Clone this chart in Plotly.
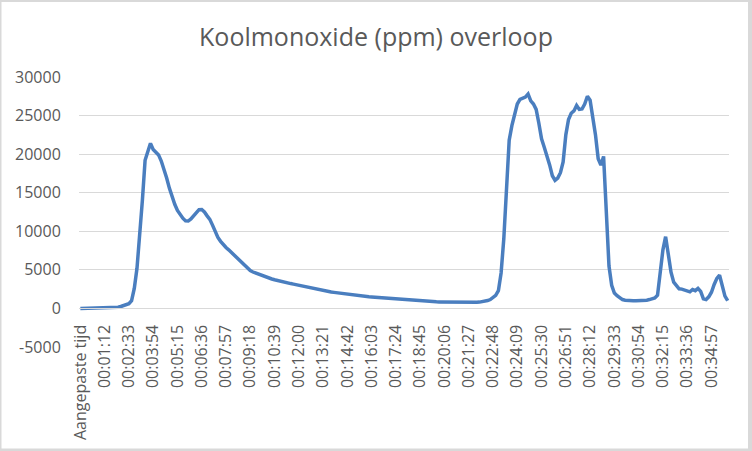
import plotly.graph_objects as go

# ---- data ----
n_points = 241
categories = ["Aangepaste tijd"] + [
    "00:%02d:%02d" % ((k * 9) // 60, (k * 9) % 60) for k in range(n_points - 1)
]

co_ppm = [
    0, 10, 15, 20, 25, 30, 35, 40, 45, 50,            # 0-9
    60, 70, 80, 100, 150, 250, 350, 450, 620, 1000,   # 10-19
    2600, 5200, 9300, 14000, 19200, 20500, 21400, 20600, 20300, 19900,  # 20-29
    19100, 18100, 16900, 15600, 14500, 13500, 12700, 12100, 11700, 11350,  # 30-39
    11330, 11600, 12050, 12500, 12800, 12820, 12500, 12000, 11550, 10800,  # 40-49
    9900, 9200, 8700, 8250, 7900, 7600, 7250, 6900, 6580, 6250,  # 50-59
    5850, 5450, 5150, 4900, 4720, 4580, 4420, 4270, 4130, 4020,  # 60-69
    3920, 3820, 3720, 3620, 3530, 3450, 3370, 3290, 3220, 3150,  # 70-79
    3070, 3000, 2930, 2850, 2760, 2670, 2590, 2500, 2440, 2380,  # 80-89
    2300, 2230, 2170, 2120, 2080, 2030, 1990, 1950, 1890, 1830,  # 90-99
    1760, 1700, 1650, 1610, 1580, 1560, 1530, 1500, 1470, 1440,  # 100-109
    1400, 1370, 1340, 1310, 1280, 1250, 1220, 1190, 1160, 1130,  # 110-119
    1100, 1070, 1040, 1010, 990, 960, 940, 920, 900, 880,        # 120-129
    870, 860, 850, 840, 830, 820, 815, 810, 800, 795,            # 130-139
    790, 785, 780, 780, 780, 785, 790, 800, 820, 850,            # 140-149
    920, 1020, 1150, 1380, 1700, 2300, 4600, 9000, 15700, 21800,  # 150-159
    23700, 25100, 26500, 27100, 27200, 27400, 27800, 26900, 26500, 25800,  # 160-169
    24000, 22000, 20900, 19800, 18600, 17200, 16600, 16900, 17600, 19000,  # 170-179
    22500, 24500, 25300, 25600, 26300, 25800, 25850, 26500, 27500, 27000,  # 180-189
    25000, 22500, 19400, 18600, 19700, 12500, 5500, 3000, 2000, 1650,  # 190-199
    1350, 1150, 1070, 1020, 1000, 985, 985, 990, 1000, 1020,  # 200-209
    1075, 1150, 1250, 1350, 1700, 4600, 7600, 9300, 7000, 4700,  # 210-219
    3400, 2900, 2550, 2500, 2400, 2250, 2150, 2450, 2300, 2600,  # 220-229
    2200, 1250, 1150, 1500, 2100, 3100, 3900, 4300, 3000, 1600,  # 230-239
    1000,  # 240
]

tick_labels = [
    "Aangepaste tijd", "00:01:12", "00:02:33", "00:03:54", "00:05:15", "00:06:36",
    "00:07:57", "00:09:18", "00:10:39", "00:12:00", "00:13:21", "00:14:42",
    "00:16:03", "00:17:24", "00:18:45", "00:20:06", "00:21:27", "00:22:48",
    "00:24:09", "00:25:30", "00:26:51", "00:28:12", "00:29:33", "00:30:54",
    "00:32:15", "00:33:36", "00:34:57",
]
y_ticks = [-5000, 0, 5000, 10000, 15000, 20000, 25000, 30000]

title_text = "Koolmonoxide (ppm) overloop"

# ---- layout ----
W, H = 752, 451
ML, MR, MT, MB = 79, 23, 77, 104
pw, ph = W - ML - MR, H - MT - MB
y_min, y_max = -5000, 30000
GRID = "#D9D9D9"
TXT = "#595959"
FONT = "Open Sans, DejaVu Sans, sans-serif"

fig = go.Figure()
fig.add_trace(go.Scatter(
    x=categories, y=co_ppm, mode="lines",
    line=dict(color="#4A7EBF", width=3.5),
    hoverinfo="skip", showlegend=False,
))

def px_x(p):
    return (p - ML) / pw

def px_y(p):
    return (H - MB - p) / ph

fig.update_layout(
    width=W, height=H,
    margin=dict(l=ML, r=MR, t=MT, b=MB, pad=0),
    paper_bgcolor=GRID,
    plot_bgcolor="rgba(0,0,0,0)",
    template="none",
    title=dict(text=title_text, x=0.5, xref="container", xanchor="center",
               y=1 - 37 / H, yref="container", yanchor="middle",
               font=dict(family=FONT, size=25, color=TXT)),
    shapes=[dict(type="rect", xref="paper", yref="paper", layer="below",
                 x0=px_x(1.5), x1=px_x(748), y0=px_y(448.5), y1=px_y(2),
                 fillcolor="white", line=dict(width=0))],
    xaxis=dict(
        type="category", categoryorder="array", categoryarray=categories,
        range=[-0.5, n_points - 0.5],
        tickmode="array", tickvals=tick_labels, ticktext=tick_labels,
        tickangle=-90, showgrid=False, zeroline=False,
        showline=True, linecolor=GRID, linewidth=1,
        anchor="free", position=(0 - y_min) / (y_max - y_min),
        ticks="outside", ticklen=9, tickcolor="rgba(0,0,0,0)",
        tickfont=dict(family=FONT, size=16, color=TXT),
        automargin=False,
    ),
    yaxis=dict(
        range=[y_min, y_max], tickmode="array", tickvals=y_ticks,
        ticktext=[str(v) for v in y_ticks],
        showgrid=True, gridcolor=GRID, gridwidth=1, zeroline=False,
        showline=False, ticks="outside", ticklen=14, tickcolor="rgba(0,0,0,0)",
        tickfont=dict(family=FONT, size=16, color=TXT),
        automargin=False,
    ),
)

fig.write_html(
    "out.html",
    config={"displayModeBar": False},
    post_script="document.body.style.margin='0';document.body.style.overflow='hidden';",
)
